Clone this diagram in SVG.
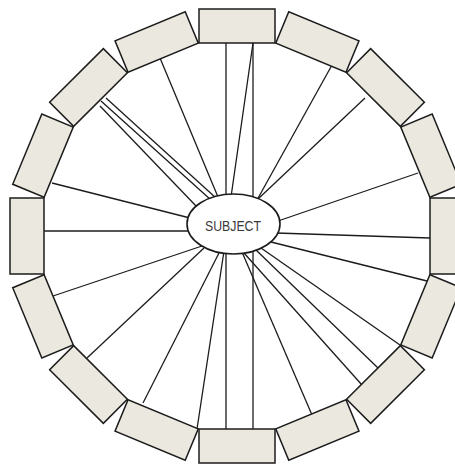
<svg xmlns="http://www.w3.org/2000/svg" width="455" height="466" viewBox="0 0 455 466">
<style>
.box{fill:#ebe8df;stroke:#1c1c1c;stroke-width:1.5}
.ln{stroke:#1c1c1c;stroke-width:1.3;fill:none}
.subj{fill:#fff;stroke:#1c1c1c;stroke-width:1.6}
.lbl{font-family:"Liberation Sans",Arial,sans-serif;font-size:15.5px;fill:#3a3a3a}
</style>
<rect width="455" height="466" fill="#fff"/>
<g id="connectors">
<line class="ln" x1="226" y1="43" x2="226" y2="198"/>
<line class="ln" x1="253" y1="43" x2="253" y2="200"/>
<line class="ln" x1="253" y1="43" x2="231" y2="197"/>
<line class="ln" x1="332" y1="65" x2="257" y2="200"/>
<line class="ln" x1="365" y1="98" x2="258" y2="199"/>
<line class="ln" x1="418" y1="173" x2="278" y2="221"/>
<line class="ln" x1="430" y1="238" x2="276" y2="233"/>
<line class="ln" x1="427" y1="281" x2="271" y2="242"/>
<line class="ln" x1="400" y1="345" x2="261" y2="248"/>
<line class="ln" x1="378" y1="368" x2="256" y2="250"/>
<line class="ln" x1="362" y1="385" x2="244" y2="253"/>
<line class="ln" x1="312" y1="415" x2="242" y2="252"/>
<line class="ln" x1="253" y1="429" x2="253" y2="249"/>
<line class="ln" x1="226" y1="429" x2="226" y2="251"/>
<line class="ln" x1="197" y1="429" x2="224" y2="251"/>
<line class="ln" x1="143" y1="403" x2="220" y2="251"/>
<line class="ln" x1="87" y1="358" x2="204" y2="248"/>
<line class="ln" x1="53" y1="296" x2="202" y2="246"/>
<line class="ln" x1="44" y1="231" x2="190" y2="231"/>
<line class="ln" x1="52" y1="183" x2="190" y2="218"/>
<line class="ln" x1="100" y1="106" x2="197" y2="207"/>
<line class="ln" x1="101" y1="101" x2="211" y2="200"/>
<line class="ln" x1="106" y1="98" x2="216" y2="198"/>
<line class="ln" x1="160" y1="58" x2="218" y2="197"/>
</g>
<g id="box-0"><rect class="box" x="199" y="9" width="76" height="34" transform="rotate(0 237 236)"/></g>
<g id="box-1"><rect class="box" x="199" y="9" width="76" height="34" transform="rotate(22.5 237 236)"/></g>
<g id="box-2"><rect class="box" x="199" y="9" width="76" height="34" transform="rotate(45 237 236)"/></g>
<g id="box-3"><rect class="box" x="199" y="9" width="76" height="34" transform="rotate(67.5 237 236)"/></g>
<g id="box-4"><rect class="box" x="199" y="9" width="76" height="34" transform="rotate(90 237 236)"/></g>
<g id="box-5"><rect class="box" x="199" y="9" width="76" height="34" transform="rotate(112.5 237 236)"/></g>
<g id="box-6"><rect class="box" x="199" y="9" width="76" height="34" transform="rotate(135 237 236)"/></g>
<g id="box-7"><rect class="box" x="199" y="9" width="76" height="34" transform="rotate(157.5 237 236)"/></g>
<g id="box-8"><rect class="box" x="199" y="9" width="76" height="34" transform="rotate(180 237 236)"/></g>
<g id="box-9"><rect class="box" x="199" y="9" width="76" height="34" transform="rotate(202.5 237 236)"/></g>
<g id="box-10"><rect class="box" x="199" y="9" width="76" height="34" transform="rotate(225 237 236)"/></g>
<g id="box-11"><rect class="box" x="199" y="9" width="76" height="34" transform="rotate(247.5 237 236)"/></g>
<g id="box-12"><rect class="box" x="199" y="9" width="76" height="34" transform="rotate(270 237 236)"/></g>
<g id="box-13"><rect class="box" x="199" y="9" width="76" height="34" transform="rotate(292.5 237 236)"/></g>
<g id="box-14"><rect class="box" x="199" y="9" width="76" height="34" transform="rotate(315 237 236)"/></g>
<g id="box-15"><rect class="box" x="199" y="9" width="76" height="34" transform="rotate(337.5 237 236)"/></g>
<g id="subject">
<ellipse class="subj" cx="233.5" cy="224" rx="46.5" ry="30"/>
<text class="lbl" x="233" y="231" text-anchor="middle" textLength="56" lengthAdjust="spacingAndGlyphs">SUBJECT</text>
</g>
</svg>
